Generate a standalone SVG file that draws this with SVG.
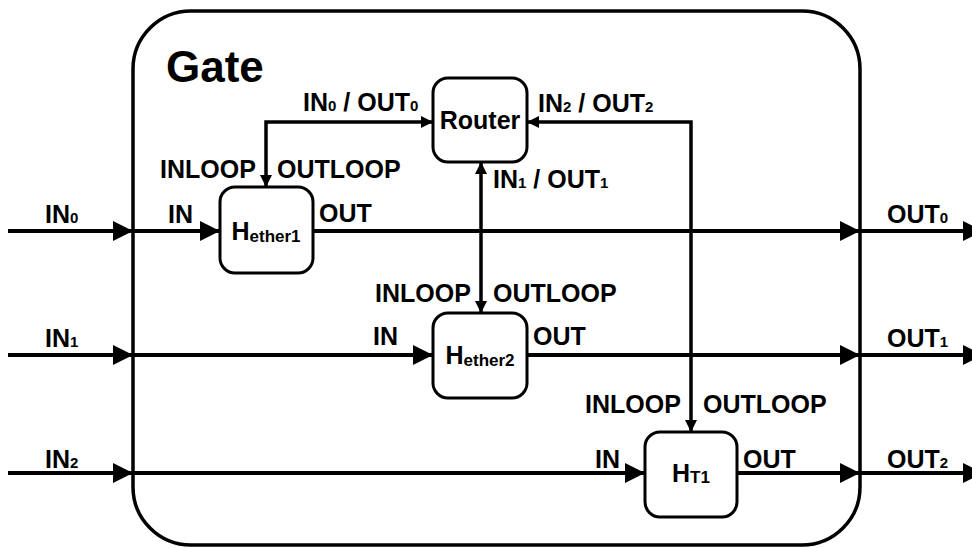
<svg xmlns="http://www.w3.org/2000/svg" width="972" height="548" viewBox="0 0 972 548">
<style>
text{font-family:"Liberation Sans",Arial,sans-serif;font-weight:bold;fill:#000}
.l{font-size:25px}
.s{font-size:15px}
.ns{font-size:17px}
.box{fill:#fff;stroke:#000;stroke-width:3}
.c{fill:none;stroke:#000;stroke-width:4}
.k{fill:none;stroke:#000;stroke-width:3.5}
</style>
<defs>
<marker id="ah" markerUnits="userSpaceOnUse" markerWidth="21" markerHeight="21" refX="20" refY="10" orient="auto-start-reverse">
<path d="M0,0 L20,10 L0,20 z" fill="#000"/>
</marker>
<marker id="as" markerUnits="userSpaceOnUse" markerWidth="13" markerHeight="13" refX="12" refY="6" orient="auto-start-reverse">
<path d="M0,0 L12,6 L0,12 z" fill="#000"/>
</marker>
</defs>
<g id="gate">
<rect x="133" y="11" width="727" height="534" rx="58" fill="none" stroke="#000" stroke-width="3.5"/>
<text x="166" y="82" style="font-size:44px">Gate</text>
</g>
<g id="connectors">
<path class="c" d="M8,231 H133" marker-end="url(#ah)"/>
<path class="c" d="M133,231 H220" marker-end="url(#ah)"/>
<path class="c" d="M8,355 H133" marker-end="url(#ah)"/>
<path class="c" d="M133,355 H433" marker-end="url(#ah)"/>
<path class="c" d="M8,473 H133" marker-end="url(#ah)"/>
<path class="c" d="M133,473 H645" marker-end="url(#ah)"/>
<path class="c" d="M313,231 H860" marker-end="url(#ah)"/>
<path class="c" d="M860,231 H983" marker-end="url(#ah)"/>
<path class="c" d="M527,355 H860" marker-end="url(#ah)"/>
<path class="c" d="M860,355 H983" marker-end="url(#ah)"/>
<path class="c" d="M737,473 H860" marker-end="url(#ah)"/>
<path class="c" d="M860,473 H983" marker-end="url(#ah)"/>
<path class="k" d="M433,122 H266 V187" marker-start="url(#as)" marker-end="url(#as)"/>
<path class="k" d="M481,162 V313" marker-start="url(#as)" marker-end="url(#as)"/>
<path class="k" d="M527,122 H691 V432" marker-start="url(#as)" marker-end="url(#as)"/>
</g>
<g id="router">
<rect class="box" x="433" y="78" width="94" height="84" rx="15"/>
<text class="l" x="480" y="129" text-anchor="middle">Router</text>
</g>
<g id="hether1">
<rect class="box" x="220" y="187" width="93" height="86" rx="15"/>
<text class="l" x="266" y="240" text-anchor="middle">H<tspan class="ns" dy="2">ether1</tspan></text>
</g>
<g id="hether2">
<rect class="box" x="433" y="313" width="94" height="85" rx="15"/>
<text class="l" x="480" y="364" text-anchor="middle">H<tspan class="ns" dy="2">ether2</tspan></text>
</g>
<g id="ht1">
<rect class="box" x="645" y="432" width="92" height="85" rx="15"/>
<text class="l" x="691" y="482" text-anchor="middle">H<tspan class="ns" dy="1">T1</tspan></text>
</g>
<g id="labels">
<text class="l" x="45" y="223">IN<tspan class="s">0</tspan></text>
<text class="l" x="45" y="347">IN<tspan class="s">1</tspan></text>
<text class="l" x="45" y="468">IN<tspan class="s">2</tspan></text>
<text class="l" x="887" y="223">OUT<tspan class="s">0</tspan></text>
<text class="l" x="887" y="347">OUT<tspan class="s">1</tspan></text>
<text class="l" x="887" y="468">OUT<tspan class="s">2</tspan></text>
<text class="l" x="168" y="223">IN</text>
<text class="l" x="319" y="222">OUT</text>
<text class="l" x="160" y="178">INLOOP</text>
<text class="l" x="277" y="178">OUTLOOP</text>
<text class="l" x="303" y="111">IN<tspan class="s">0</tspan> / OUT<tspan class="s">0</tspan></text>
<text class="l" x="538" y="112">IN<tspan class="s">2</tspan> / OUT<tspan class="s">2</tspan></text>
<text class="l" x="493" y="188">IN<tspan class="s">1</tspan> / OUT<tspan class="s">1</tspan></text>
<text class="l" x="375" y="302">INLOOP</text>
<text class="l" x="493" y="302">OUTLOOP</text>
<text class="l" x="373" y="345">IN</text>
<text class="l" x="533" y="345">OUT</text>
<text class="l" x="585" y="413">INLOOP</text>
<text class="l" x="703" y="413">OUTLOOP</text>
<text class="l" x="595" y="468">IN</text>
<text class="l" x="743" y="468">OUT</text>
</g>
</svg>
